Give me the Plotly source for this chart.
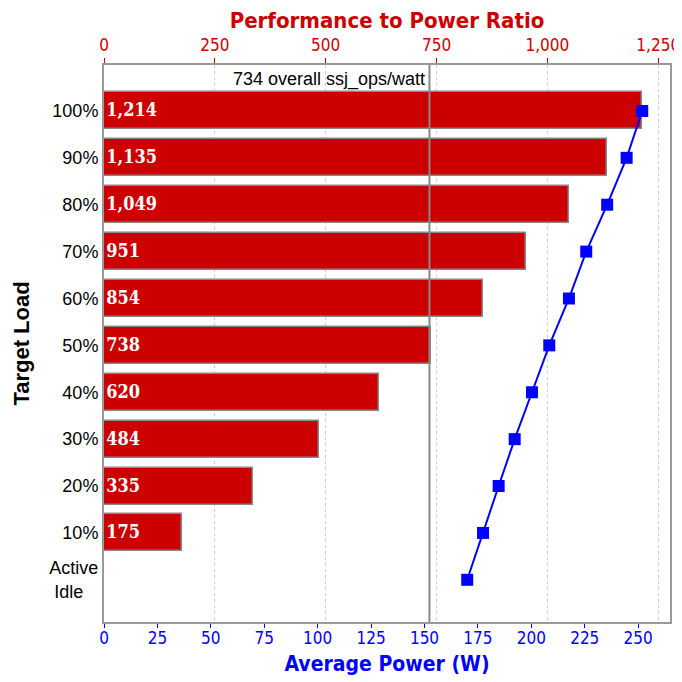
import plotly.graph_objects as go

# target loads, top to bottom
target_loads = ['100%', '90%', '80%', '70%', '60%', '50%', '40%', '30%', '20%', '10%',
                'Active<br>Idle&nbsp;&nbsp;&nbsp;']
perf_ratio = [1214, 1135, 1049, 951, 854, 738, 620, 484, 335, 175]
avg_power = [251.9, 244.6, 235.5, 225.7, 217.6, 208.4, 200.3, 192.2, 184.7, 177.4, 170.0]
overall = 734
ratio_ticks = [0, 250, 500, 750, 1000, 1250]
power_ticks = [0, 25, 50, 75, 100, 125, 150, 175, 200, 225, 250]

n = len(target_loads)
ypos = [n - 1 - i for i in range(n)]  # 100% at top, idle at 0

RED = '#cc0000'
BLUE = '#0000ff'
FRAME = '#999999'
COND = 'DejaVu Sans Condensed, DejaVu Sans, sans-serif'
ARIAL = 'Liberation Sans, Arial, sans-serif'

fig = go.Figure()

# bars on the base (top) axis, power line on the overlaying (bottom) axis so it sits above
fig.add_trace(go.Bar(
    x=perf_ratio, y=ypos[:len(perf_ratio)], orientation='h', xaxis='x',
    width=0.79, marker=dict(color=RED, line=dict(color='#888888', width=1.5)),
    texttemplate='%{x:,}', textposition='inside', insidetextanchor='start',
    textfont=dict(family='DejaVu Serif Condensed, DejaVu Serif, serif', size=18,
                  color='white', weight='bold'),
    hoverinfo='skip'))

fig.add_trace(go.Scatter(
    x=avg_power, y=ypos, mode='lines+markers', xaxis='x2', cliponaxis=False,
    line=dict(color=BLUE, width=2),
    marker=dict(symbol='square', size=12, color=BLUE)))

# overall ssj_ops/watt line
fig.add_shape(type='line', xref='x', yref='paper', x0=overall, x1=overall, y0=0, y1=1,
              line=dict(color='#888888', width=2), layer='above')
fig.add_annotation(xref='x', yref='paper', x=overall, y=1, xanchor='right', yanchor='top',
                   xshift=-2, yshift=-2, showarrow=False,
                   text=f'{overall} overall ssj_ops/watt',
                   font=dict(family=ARIAL, size=18, color='black'))

# page body has an 8px margin, so the figure is 8px smaller than the window
fig.update_layout(
    width=674, height=674,
    margin=dict(l=96, r=12, t=57, b=60),
    plot_bgcolor='white', paper_bgcolor='white',
    showlegend=False, bargap=0,
    xaxis=dict(range=[0, 1276.5], tickvals=ratio_ticks, side='top',
               tickformat=',', automargin=False,
               tickfont=dict(family=COND, size=17, color=RED),
               title=dict(text='<b>Performance to Power Ratio</b>', standoff=4,
                          font=dict(family=COND, size=22, color=RED)),
               ticks='outside', ticklen=5, tickcolor=RED, tickwidth=1,
               showgrid=True, gridcolor='#cccccc', griddash='dot', gridwidth=1,
               zeroline=False, showline=True, linecolor=FRAME, linewidth=2),
    xaxis2=dict(range=[0, 264.9], tickvals=power_ticks, overlaying='x', side='bottom',
                anchor='y', automargin=False,
                tickfont=dict(family=COND, size=17, color=BLUE), ticklabelstandoff=-4,
                title=dict(text='<b>Average Power (W)</b>', standoff=9,
                           font=dict(family=COND, size=21, color=BLUE)),
                ticks='outside', ticklen=4, tickcolor=BLUE, tickwidth=1,
                showgrid=False, zeroline=False,
                showline=True, linecolor=FRAME, linewidth=2),
    yaxis=dict(range=[-0.9, 10.98], tickvals=ypos, ticktext=target_loads, automargin=False,
               tickfont=dict(family=ARIAL, size=18, color='black'),
               title=dict(text='<b>Target Load</b>', standoff=14,
                          font=dict(family=ARIAL, size=22, color='black')),
               ticks='', showgrid=False, zeroline=False,
               showline=True, linecolor=FRAME, linewidth=2, mirror=True),
)

fig.write_html('out.html')
